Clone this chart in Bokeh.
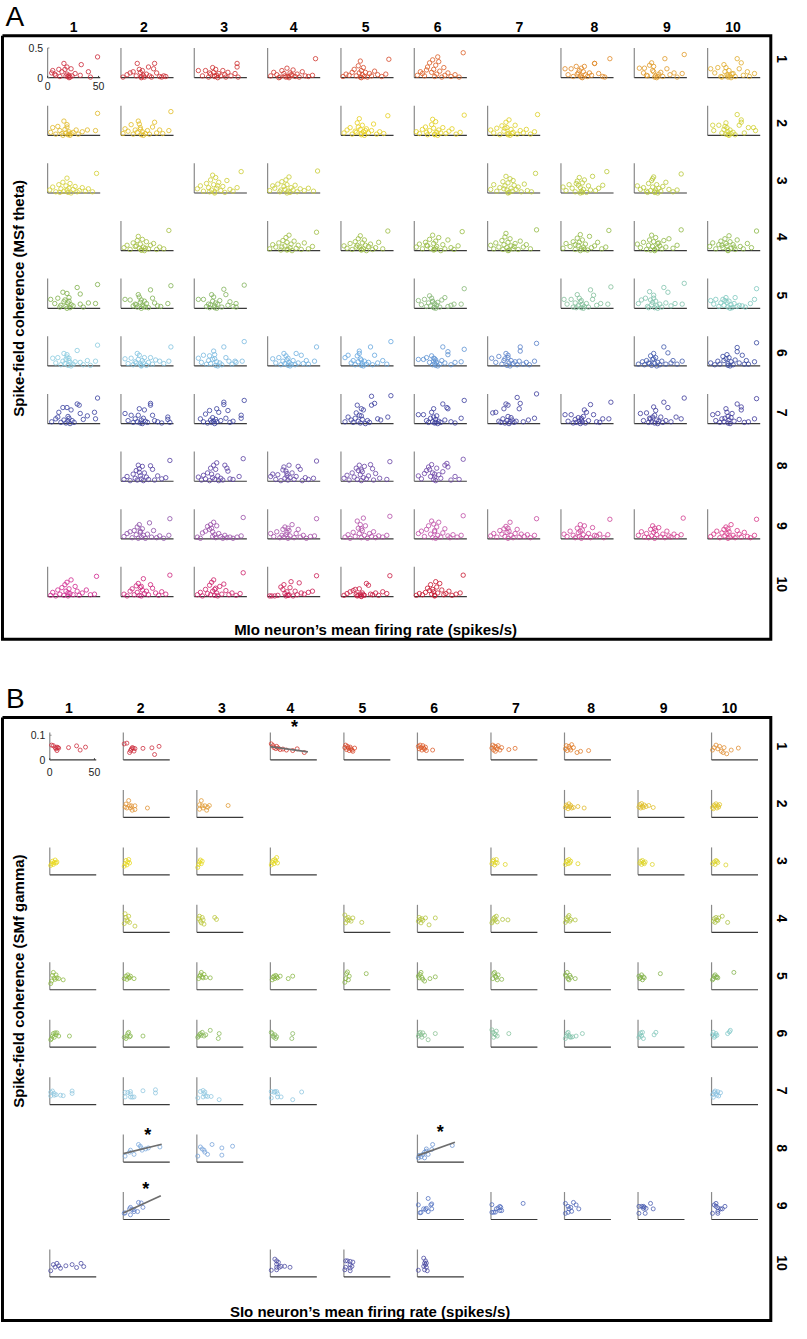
import numpy as np
from bokeh.plotting import figure
from bokeh.models import Range1d
from bokeh.core.properties import value
from bokeh.embed import file_html
from bokeh.resources import INLINE

# ======================= DATA =======================
# Panel A: x = MIo neuron's mean firing rate (spikes/s), y = spike-field coherence x 100
A_r1_c1_x = [49,16,33,19,23,5,11,14,27,32,40,42,7,8,20,21,22,19,21,18,17,4,24,12]
A_r1_c1_y = [35,24,22,18,15,12,14,10,7,4,10,1,6,4,2,4,1,6,0,3,14,8,3,2]
A_r1_c2_x = [2,6,9,12,15,16,18,19,20,20,21,22,23,25,27,28,30,32,35,38,40,42,44,33]
A_r1_c2_y = [1,5,8,10,3,24,14,9,2,0,12,4,1,6,18,3,1,15,8,2,1,3,2,24]
A_r1_c3_x = [4,8,11,14,16,18,19,20,21,22,23,24,26,28,30,31,33,36,40,42,42,43,15,20]
A_r1_c3_y = [12,3,12,1,6,17,9,2,14,4,0,7,3,12,5,1,9,3,7,24,18,1,8,3]
A_r1_c4_x = [3,6,9,12,14,16,17,19,20,21,22,24,25,27,29,31,34,37,40,47,18,23,11,44]
A_r1_c4_y = [3,9,5,1,12,7,3,16,2,0,8,4,13,2,6,1,10,3,2,32,1,5,0,4]
A_r1_c5_x = [2,5,8,11,13,15,17,18,19,20,20,21,22,23,24,26,28,30,33,36,40,44,47,19]
A_r1_c5_y = [2,6,4,9,14,3,20,8,28,0,12,5,17,2,9,1,7,3,11,5,2,6,31,1]
A_r1_c6_x = [3,6,8,10,13,15,17,18,19,20,21,22,23,25,27,29,30,33,36,40,44,48,12,24]
A_r1_c6_y = [4,10,7,3,18,25,9,30,14,2,21,6,35,11,1,17,4,8,2,5,1,42,13,27]
A_r1_c8_x = [4,7,10,12,15,17,19,20,21,22,23,24,26,28,30,33,33,37,41,43,48,20,18,16]
A_r1_c8_y = [15,5,15,2,19,8,3,16,0,10,19,5,2,8,4,24,24,7,2,1,32,1,12,6]
A_r1_c9_x = [5,9,10,13,15,17,18,19,20,21,22,24,26,28,30,32,35,39,42,47,49,23,12,19]
A_r1_c9_y = [16,8,16,3,21,25,12,19,1,3,0,6,9,2,32,15,5,8,1,7,39,2,4,10]
A_r1_c10_x = [3,7,10,13,16,17,18,19,20,21,22,23,25,27,29,31,33,35,39,41,46,20,14,24]
A_r1_c10_y = [15,8,17,2,22,10,17,5,1,12,3,0,7,2,32,15,25,4,10,2,7,3,1,6]

A_r2_c1_x = [3,5,8,10,12,14,16,17,18,19,20,21,22,23,25,28,30,34,39,47,49,19,21,15]
A_r2_c1_y = [5,13,2,15,8,3,24,10,4,18,1,6,0,3,5,9,2,6,9,8,37,14,2,0]
A_r2_c2_x = [2,4,7,10,12,14,16,17,18,19,20,21,22,24,26,28,31,33,35,38,41,47,49,19]
A_r2_c2_y = [3,11,7,18,2,9,5,24,19,13,1,6,0,3,8,2,14,22,4,9,3,8,40,10]
A_r2_c5_x = [3,6,9,11,14,16,17,18,19,20,21,22,23,25,27,30,32,35,38,42,46,20,15,24]
A_r2_c5_y = [4,9,13,2,7,21,14,28,10,3,17,6,0,11,4,8,19,2,6,3,33,1,5,8]
A_r2_c6_x = [2,5,8,11,13,15,17,19,20,21,22,23,24,26,28,31,34,37,41,45,49,18,20,12]
A_r2_c6_y = [6,3,10,14,1,8,18,12,2,23,5,0,9,4,13,3,7,11,2,5,34,27,1,5]
A_r2_c7_x = [3,6,9,12,14,16,18,19,20,21,22,23,25,27,29,32,35,38,42,46,49,20,17,24]
A_r2_c7_y = [9,4,12,1,16,7,22,13,3,26,0,10,5,17,2,8,4,10,2,6,35,1,12,3]
A_r2_c10_x = [5,6,11,14,16,18,18,19,20,21,22,23,25,27,29,31,33,33,36,40,45,47,20,17]
A_r2_c10_y = [17,8,17,4,10,21,2,13,6,0,9,3,5,1,35,17,26,22,4,13,13,8,1,15]

A_r3_c1_x = [2,5,8,11,13,15,16,18,19,20,21,22,23,25,27,29,31,34,37,40,44,48,19,12]
A_r3_c1_y = [5,10,2,14,7,18,3,12,25,1,8,16,0,6,11,2,4,9,3,7,2,33,5,1]
A_r3_c3_x = [3,6,9,12,14,16,17,18,19,20,21,22,24,26,28,30,32,35,38,42,46,20,23,15]
A_r3_c3_y = [7,12,3,16,9,22,5,30,14,2,26,8,18,4,11,1,21,6,3,9,36,0,12,2]
A_r3_c4_x = [2,5,7,10,12,14,16,17,18,19,20,21,22,23,25,27,29,32,36,40,45,49,19,13]
A_r3_c4_y = [4,12,8,15,2,19,11,6,22,14,3,27,1,9,5,13,2,7,4,8,3,37,0,5]
A_r3_c7_x = [3,6,9,12,15,17,18,19,20,21,22,23,24,26,28,30,33,36,39,43,47,20,16,25]
A_r3_c7_y = [6,14,3,9,19,12,28,5,17,1,24,8,3,13,6,10,2,15,4,2,33,0,7,21]
A_r3_c8_x = [2,5,8,11,14,16,17,18,19,20,21,22,23,25,27,29,31,34,37,41,45,19,21,15]
A_r3_c8_y = [10,4,14,8,2,20,13,26,9,3,17,6,22,1,12,5,28,4,8,13,36,0,1,16]
A_r3_c9_x = [3,6,9,12,14,16,17,18,19,20,21,22,23,24,26,28,31,34,38,42,46,20,18,13]
A_r3_c9_y = [12,6,9,3,16,4,21,10,27,1,5,14,0,8,3,11,18,6,2,5,32,2,24,1]

A_r4_c2_x = [3,6,9,12,14,16,17,18,19,20,21,22,23,25,27,29,32,35,38,42,47,20,15,24]
A_r4_c2_y = [5,9,2,13,7,17,24,4,11,1,19,6,0,15,3,9,12,2,6,3,34,1,8,4]
A_r4_c4_x = [2,5,8,11,13,15,17,18,19,20,21,22,23,24,26,28,30,33,36,40,44,48,19,14]
A_r4_c4_y = [3,10,6,13,1,17,8,22,14,2,26,5,11,0,16,4,9,2,13,3,7,31,1,6]
A_r4_c5_x = [3,6,9,11,14,16,17,18,19,20,21,22,23,25,27,29,31,34,37,41,46,20,24,15]
A_r4_c5_y = [8,4,12,2,15,9,20,6,25,1,13,3,18,0,7,11,2,5,14,3,33,2,9,6]
A_r4_c6_x = [2,5,8,11,13,15,16,18,19,20,21,22,24,26,28,30,33,36,39,43,47,19,21,12]
A_r4_c6_y = [6,11,3,14,8,19,4,26,12,2,16,7,22,0,10,3,18,5,2,8,32,1,4,9]
A_r4_c7_x = [3,6,8,11,14,16,17,18,19,20,21,22,23,25,27,30,32,35,38,42,48,20,15,26]
A_r4_c7_y = [9,3,13,6,17,10,23,29,5,14,1,20,8,3,12,2,16,6,10,3,35,0,2,7]
A_r4_c8_x = [2,5,9,12,14,16,17,18,19,20,21,22,24,26,28,30,33,36,40,44,47,19,23,14]
A_r4_c8_y = [4,12,7,15,2,21,9,14,27,3,18,6,11,1,24,5,8,14,3,6,34,0,2,10]
A_r4_c9_x = [3,6,9,12,14,15,17,18,19,20,21,22,23,25,27,29,31,34,38,42,46,20,16,24]
A_r4_c9_y = [11,5,14,2,9,18,26,7,15,0,22,4,12,8,3,17,6,20,4,9,35,2,1,13]
A_r4_c10_x = [2,5,8,11,13,15,17,18,19,20,21,22,23,25,27,29,32,35,39,43,48,20,14,26]
A_r4_c10_y = [7,13,3,10,16,5,20,12,8,1,25,15,4,10,2,18,7,3,12,5,33,0,9,6]

A_r5_c1_x = [3,7,10,13,15,16,18,19,20,21,22,23,25,29,32,32,35,40,47,49,19,17,21,12]
A_r5_c1_y = [15,8,17,5,27,11,3,25,9,18,1,6,4,35,24,7,2,9,8,40,0,14,12,2]
A_r5_c2_x = [4,9,12,14,16,17,18,19,20,21,22,23,25,27,29,31,33,36,39,46,49,20,24,15]
A_r5_c2_y = [15,14,4,7,2,23,19,10,0,5,3,12,8,1,31,17,9,4,3,8,38,14,2,6]
A_r5_c3_x = [4,9,12,14,15,17,18,19,20,21,22,23,25,27,29,31,33,35,38,41,41,49,20,16]
A_r5_c3_y = [15,15,3,7,1,23,12,19,4,9,0,7,13,2,32,23,5,11,3,8,2,39,1,6]
A_r5_c6_x = [4,7,10,12,14,15,16,17,18,19,20,21,22,23,25,27,30,33,36,39,46,49,20,18]
A_r5_c6_y = [13,6,15,3,9,21,4,17,12,1,8,0,5,10,2,14,18,3,5,7,7,33,2,11]
A_r5_c8_x = [3,6,10,12,14,16,17,18,19,20,21,22,23,25,27,29,31,32,35,39,46,49,20,15]
A_r5_c8_y = [15,7,15,2,9,23,4,17,11,1,6,0,3,8,2,31,15,22,5,8,7,36,13,1]
A_r5_c9_x = [4,7,11,13,15,16,17,18,19,20,21,22,23,25,27,29,31,33,36,40,47,49,19,14]
A_r5_c9_y = [8,14,17,3,28,14,6,10,22,1,12,4,0,7,2,35,9,27,4,8,7,42,17,1]
A_r5_c10_x = [3,6,8,11,13,15,16,18,19,20,21,22,23,24,26,27,29,31,34,37,42,46,48,17]
A_r5_c10_y = [13,7,15,3,9,15,5,18,10,2,12,0,6,1,8,18,3,5,4,2,8,15,33,13]

A_r6_c1_x = [5,8,10,13,15,16,17,18,19,20,21,22,23,25,27,29,32,35,39,42,47,49,19,21]
A_r6_c1_y = [13,5,14,2,8,21,4,11,19,1,9,6,0,3,7,26,6,2,9,1,8,35,15,13]
A_r6_c2_x = [4,7,10,12,14,16,17,18,19,20,21,22,23,25,27,29,31,34,38,42,47,49,20,15]
A_r6_c2_y = [12,4,13,2,7,21,11,18,3,0,9,5,14,1,6,14,3,10,8,4,8,32,1,5]
A_r6_c3_x = [4,7,9,12,14,15,16,18,19,20,21,22,23,25,27,29,31,34,37,40,41,47,49,20]
A_r6_c3_y = [13,6,18,3,9,17,4,11,25,19,1,7,0,5,2,32,14,8,3,8,6,8,41,12]
A_r6_c4_x = [5,8,11,13,15,16,17,18,19,20,21,22,23,25,27,28,30,33,35,38,40,46,48,20]
A_r6_c4_y = [12,5,14,2,8,21,4,17,10,1,6,0,3,9,2,21,5,18,4,9,3,8,32,13]
A_r6_c5_x = [4,7,10,12,14,16,17,18,18,19,20,21,22,23,25,27,29,31,33,36,41,45,49,20]
A_r6_c5_y = [14,18,5,9,2,17,7,25,21,12,1,4,0,8,3,6,32,2,18,5,9,3,41,10]
A_r6_c6_x = [4,9,12,15,17,18,19,19,20,21,21,22,23,25,27,28,30,33,33,36,40,46,49,20]
A_r6_c6_y = [11,11,14,6,17,2,13,8,4,10,1,6,0,3,9,32,5,24,19,2,6,7,28,12]
A_r6_c7_x = [4,8,11,14,16,17,18,19,20,21,22,23,25,27,29,31,32,32,35,38,41,46,48,20]
A_r6_c7_y = [13,6,16,3,9,12,21,1,18,5,0,9,4,7,2,8,32,25,3,6,2,8,38,14]
A_r6_c9_x = [4,8,10,12,14,16,17,18,19,20,21,22,23,25,27,29,31,33,36,38,42,47,19,15]
A_r6_c9_y = [3,7,2,9,5,17,1,11,21,4,14,0,6,2,8,32,3,22,5,9,3,8,12,4]
A_r6_c10_x = [3,7,10,12,15,16,18,19,20,21,22,23,25,27,29,29,31,34,36,38,40,46,48,20]
A_r6_c10_y = [5,2,8,3,16,9,12,19,4,14,0,7,2,10,31,24,5,18,3,9,3,7,39,1]

A_r7_c1_x = [4,8,10,11,13,15,16,18,19,20,21,22,23,24,26,29,31,32,35,39,46,47,49,20]
A_r7_c1_y = [3,8,11,19,2,27,6,1,27,4,9,0,23,5,2,33,31,17,7,13,19,8,43,12]
A_r7_c2_x = [4,7,10,12,14,16,17,18,19,20,21,22,23,24,26,29,29,31,33,36,40,46,46,48]
A_r7_c2_y = [17,5,14,2,8,3,14,25,1,6,0,9,23,4,2,34,31,14,5,3,1,11,7,2]
A_r7_c3_x = [6,9,11,13,15,16,17,18,19,20,21,22,22,24,26,29,29,31,33,35,38,46,46,49]
A_r7_c3_y = [8,3,16,1,22,6,2,10,4,0,7,25,3,19,5,36,32,9,22,2,4,14,9,39]
A_r7_c5_x = [4,7,10,12,14,15,16,17,18,19,20,21,22,24,26,28,30,30,33,36,39,46,49,20]
A_r7_c5_y = [3,11,6,2,9,18,31,4,14,1,25,7,23,0,5,2,46,31,34,8,6,11,47,13]
A_r7_c6_x = [4,9,12,14,16,17,18,19,20,21,22,23,24,26,28,30,32,33,36,40,46,49,19,21]
A_r7_c6_y = [15,15,5,2,9,19,3,25,1,7,13,0,4,2,33,6,27,25,3,1,9,39,11,2]
A_r7_c7_x = [5,8,11,13,15,16,17,18,19,20,21,22,23,24,26,28,29,31,32,35,40,46,48,20]
A_r7_c7_y = [18,19,4,2,8,25,1,33,5,31,0,3,10,6,2,4,44,25,34,3,6,9,50,12]
A_r7_c8_x = [4,7,10,12,14,15,17,18,19,20,21,22,23,24,25,27,29,32,35,38,41,47,49,20]
A_r7_c8_y = [15,4,15,1,7,2,10,4,0,6,3,12,23,1,19,5,32,15,3,2,8,8,36,9]
A_r7_c9_x = [6,9,12,14,16,17,18,19,20,21,22,23,24,26,28,29,31,33,36,41,46,49,20,15]
A_r7_c9_y = [17,5,18,2,8,3,11,28,1,22,6,0,4,11,2,36,5,27,3,11,8,43,14,9]
A_r7_c10_x = [5,8,10,12,14,16,18,19,20,21,22,23,24,26,29,31,33,33,36,40,46,48,20,17]
A_r7_c10_y = [15,5,17,2,8,3,25,19,1,6,0,10,17,4,33,7,28,23,2,3,8,42,12,9]

A_r8_c2_x = [3,6,9,12,14,15,16,17,18,19,20,21,22,23,25,27,29,31,33,36,40,44,48,18]
A_r8_c2_y = [3,8,1,12,5,18,2,27,21,9,4,25,1,14,7,3,26,20,2,9,4,6,35,15]
A_r8_c3_x = [4,7,9,11,13,15,16,18,19,20,21,22,23,24,26,28,30,32,33,35,38,44,48,17]
A_r8_c3_y = [7,2,10,4,14,1,22,6,27,3,20,31,9,1,5,2,27,22,17,4,3,8,38,12]
A_r8_c4_x = [3,5,8,10,13,15,16,17,18,19,20,21,22,24,26,28,30,32,34,37,40,45,48,19]
A_r8_c4_y = [8,12,3,11,1,19,24,5,17,9,2,27,6,14,3,8,25,20,1,6,3,5,34,13]
A_r8_c5_x = [3,6,8,11,13,15,16,17,18,19,20,21,22,23,25,27,29,31,32,34,38,45,48,20]
A_r8_c5_y = [5,10,2,14,7,22,3,18,27,11,1,16,6,25,4,9,28,21,2,13,5,3,33,19]
A_r8_c6_x = [4,7,10,12,14,15,16,17,18,19,20,21,22,24,26,28,30,32,33,36,40,44,48,20]
A_r8_c6_y = [9,4,13,18,24,20,8,28,14,3,7,1,22,11,5,16,27,30,24,2,8,3,37,12]

A_r9_c2_x = [3,6,9,11,13,15,16,17,18,19,20,21,22,24,26,28,30,32,35,38,42,47,48,19]
A_r9_c2_y = [4,9,12,2,14,7,20,1,24,11,3,17,6,1,8,27,3,14,2,5,1,6,34,13]
A_r9_c3_x = [3,6,8,11,13,15,16,17,18,19,20,21,22,24,26,28,30,32,35,38,42,46,48,18]
A_r9_c3_y = [3,1,10,13,21,16,24,18,4,28,7,2,22,9,4,1,6,2,3,1,3,5,36,12]
A_r9_c4_x = [3,6,9,12,14,15,16,17,18,19,20,21,22,24,26,28,30,32,35,38,42,46,48,20]
A_r9_c4_y = [9,4,12,2,6,16,3,20,7,11,1,14,5,24,2,9,16,3,6,1,4,5,34,18]
A_r9_c5_x = [4,7,9,12,14,16,17,18,19,20,21,22,23,24,26,28,30,32,34,37,41,45,48,20]
A_r9_c5_y = [3,7,1,11,4,30,18,9,24,2,14,35,6,22,1,9,4,12,2,5,3,6,38,17]
A_r9_c6_x = [4,7,10,12,14,16,17,18,19,20,21,22,23,24,26,28,30,33,35,38,42,46,48,20]
A_r9_c6_y = [9,13,4,16,22,8,30,2,25,12,1,20,6,28,3,10,17,5,2,7,3,6,39,14]
A_r9_c7_x = [3,6,9,12,14,16,17,18,19,20,21,22,23,25,27,29,31,33,36,39,42,46,48,20]
A_r9_c7_y = [5,9,3,14,8,17,4,21,11,1,13,28,6,2,9,16,3,8,4,7,2,6,34,18]
A_r9_c8_x = [3,6,9,12,14,16,17,18,19,20,21,22,23,25,27,29,31,33,35,38,42,46,48,19]
A_r9_c8_y = [8,4,13,6,2,18,10,4,24,1,15,7,22,3,9,2,19,6,5,8,2,7,33,13]
A_r9_c9_x = [4,7,10,12,14,16,17,18,19,20,21,22,24,26,28,30,32,34,36,39,42,46,48,20]
A_r9_c9_y = [6,12,3,9,2,16,5,22,11,1,14,7,19,3,8,2,13,5,3,8,4,7,35,18]
A_r9_c10_x = [3,6,9,12,14,16,17,18,19,20,21,22,23,25,27,29,31,33,36,39,42,46,48,20]
A_r9_c10_y = [4,8,13,2,10,16,5,20,9,1,12,3,24,6,2,14,8,3,11,4,2,6,33,17]

A_r10_c1_x = [3,5,8,10,12,14,16,17,18,19,20,21,22,23,25,27,29,31,34,38,42,46,48,20]
A_r10_c1_y = [2,7,1,11,4,15,2,20,9,24,1,13,5,28,3,17,9,2,6,11,3,4,34,6]
A_r10_c2_x = [3,6,9,11,13,15,16,17,18,19,20,21,22,23,25,27,29,31,34,37,40,44,48,20]
A_r10_c2_y = [4,1,9,13,3,18,7,22,2,15,1,11,30,5,9,3,20,14,6,2,8,4,36,17]
A_r10_c3_x = [3,6,8,11,13,15,16,17,18,19,20,21,22,23,25,27,29,31,34,37,41,45,48,20]
A_r10_c3_y = [3,7,1,12,5,19,3,24,9,28,2,14,6,1,17,4,21,10,3,6,2,5,40,12]
A_r10_c4_x = [2,4,7,10,13,15,16,17,18,19,20,21,22,23,25,27,29,31,33,36,40,44,48,20]
A_r10_c4_y = [1,1,1,2,16,12,20,5,1,8,2,3,15,25,1,9,3,23,6,4,7,9,35,2]
A_r10_c5_x = [3,6,9,12,14,15,16,17,18,19,20,21,22,23,25,27,29,31,34,37,41,45,48,20]
A_r10_c5_y = [2,5,8,10,12,3,1,2,13,4,1,6,3,2,22,19,4,3,6,2,8,5,35,0]
A_r10_c6_x = [2,5,8,11,13,15,16,17,18,19,20,21,22,23,25,27,29,31,34,37,41,45,48,20]
A_r10_c6_y = [2,5,3,7,14,10,20,4,12,8,2,25,16,6,22,11,3,5,9,2,4,6,36,1]

# Panel B: x = SIo neuron's mean firing rate (spikes/s), y = spike-field coherence x 1000
B_r1_c1_x = [2,4,6,7,8,9,10,8,21,30,34,40]
B_r1_c1_y = [60,58,50,45,52,50,48,38,50,57,40,52]
B_r1_c2_x = [1,4,7,8,9,10,11,12,13,22,32,35,40]
B_r1_c2_y = [65,68,30,38,44,50,48,36,46,47,49,22,55]
B_r1_c4_x = [1,3,4,6,7,9,11,14,18,25,30,38]
B_r1_c4_y = [65,58,50,46,55,48,42,44,40,38,45,30]
B_r1_c5_x = [1,2,3,4,5,6,7,8,9,10,12]
B_r1_c5_y = [50,60,42,55,48,38,52,45,40,35,48]
B_r1_c6_x = [1,2,3,4,5,6,7,8,9,10,17]
B_r1_c6_y = [55,45,60,50,40,58,48,44,52,38,40]
B_r1_c7_x = [1,2,3,4,5,6,7,8,10,12,20,27]
B_r1_c7_y = [48,60,40,55,35,52,45,58,40,50,42,47]
B_r1_c8_x = [1,2,3,5,6,7,8,10,14,18,27]
B_r1_c8_y = [45,58,38,55,48,40,62,50,30,35,38]
B_r1_c10_x = [1,3,5,7,9,11,13,14,17,22,30]
B_r1_c10_y = [40,50,60,45,55,35,30,50,25,40,48]

B_r2_c2_x = [2,3,4,6,7,8,9,10,13,13,27]
B_r2_c2_y = [42,54,38,68,47,38,47,29,47,32,38]
B_r2_c3_x = [3,3,5,6,7,9,11,12,14,35]
B_r2_c3_y = [51,33,68,47,38,47,29,41,48,48]
B_r2_c8_x = [1,2,3,4,5,6,7,8,10,15,22]
B_r2_c8_y = [40,50,45,35,55,42,48,38,40,44,38]
B_r2_c9_x = [1,2,3,4,5,6,7,9,12,17]
B_r2_c9_y = [42,52,38,56,45,40,50,44,48,40]
B_r2_c10_x = [1,2,3,4,5,6,7,8,9]
B_r2_c10_y = [40,35,50,45,55,38,48,42,52]

B_r3_c1_x = [1,2,3,4,5,6,7,8]
B_r3_c1_y = [38,45,55,42,50,60,48,52]
B_r3_c2_x = [1,2,3,4,5,6,7]
B_r3_c2_y = [35,45,58,40,52,62,48]
B_r3_c3_x = [1,2,3,4,5,6]
B_r3_c3_y = [30,42,52,60,45,55]
B_r3_c4_x = [1,2,3,4,5,6,7,8]
B_r3_c4_y = [40,50,58,45,62,55,70,48]
B_r3_c7_x = [1,2,3,4,5,6,7,16]
B_r3_c7_y = [45,55,60,40,50,62,48,42]
B_r3_c8_x = [1,2,3,4,5,6,7,15]
B_r3_c8_y = [42,52,58,45,62,48,55,45]
B_r3_c9_x = [2,3,4,5,6,7,8,16]
B_r3_c9_y = [48,55,42,58,50,45,52,42]
B_r3_c10_x = [1,3,4,5,6,7,16]
B_r3_c10_y = [45,52,42,58,55,50,40]

B_r4_c2_x = [1,2,3,4,5,6,7,13]
B_r4_c2_y = [35,75,60,50,45,65,40,25]
B_r4_c3_x = [2,3,4,5,6,7,8,20,22]
B_r4_c3_y = [55,65,45,38,60,50,33,60,52]
B_r4_c5_x = [1,2,3,4,5,6,8,10,20]
B_r4_c5_y = [70,38,55,48,60,50,45,58,40]
B_r4_c6_x = [1,2,3,4,5,6,9,13,20]
B_r4_c6_y = [45,60,52,38,55,48,58,30,58]
B_r4_c7_x = [1,2,3,4,5,6,7,13,19]
B_r4_c7_y = [38,45,55,60,50,65,42,52,50]
B_r4_c8_x = [1,2,3,4,5,6,7,12]
B_r4_c8_y = [40,55,48,62,68,45,52,50]
B_r4_c10_x = [2,3,4,5,6,7,8,12,18]
B_r4_c10_y = [45,55,40,60,50,48,58,65,40]

B_r5_c1_x = [1,2,3,4,5,6,7,8,10,15]
B_r5_c1_y = [25,35,58,70,48,42,60,48,45,40]
B_r5_c2_x = [1,3,4,5,6,7,8,12]
B_r5_c2_y = [45,55,42,60,50,48,55,45]
B_r5_c3_x = [2,3,4,5,6,7,8,10,15]
B_r5_c3_y = [45,55,60,70,52,48,62,50,48]
B_r5_c4_x = [2,3,4,5,6,7,8,11,20,25]
B_r5_c4_y = [40,50,55,45,58,52,48,55,45,55]
B_r5_c5_x = [1,2,3,4,5,6,25]
B_r5_c5_y = [30,45,65,72,40,55,65]
B_r5_c6_x = [1,2,3,4,5,6,8,14,20]
B_r5_c6_y = [55,48,62,70,50,42,35,45,52]
B_r5_c7_x = [2,3,4,5,6,7,8,12]
B_r5_c7_y = [45,65,70,55,50,40,60,42]
B_r5_c8_x = [1,2,3,4,5,6,7,12]
B_r5_c8_y = [60,55,70,45,40,58,50,45]
B_r5_c9_x = [1,2,3,4,5,6,7,25]
B_r5_c9_y = [55,45,50,60,40,52,48,65]
B_r5_c10_x = [1,2,3,4,5,6,7,25]
B_r5_c10_y = [40,45,55,60,50,52,48,70]

B_r6_c1_x = [1,2,3,4,5,6,7,8,10,22]
B_r6_c1_y = [30,35,45,55,40,58,50,58,45,45]
B_r6_c2_x = [1,3,4,5,6,7,8,22]
B_r6_c2_y = [40,35,45,55,60,42,45,45]
B_r6_c3_x = [1,2,3,4,5,6,8,10,15,24,25]
B_r6_c3_y = [40,45,50,55,48,60,45,50,68,35,55]
B_r6_c4_x = [1,2,3,4,5,6,7,24,25]
B_r6_c4_y = [60,55,45,40,50,35,42,35,55]
B_r6_c6_x = [1,2,3,4,5,6,8,12,20]
B_r6_c6_y = [45,55,60,50,40,58,48,30,55]
B_r6_c7_x = [1,2,3,4,5,6,7,20]
B_r6_c7_y = [70,60,40,55,50,65,45,55]
B_r6_c8_x = [1,2,3,4,5,6,7,9,13,20]
B_r6_c8_y = [35,45,55,60,48,42,40,42,45,55]
B_r6_c9_x = [1,2,3,4,5,6,18,20]
B_r6_c9_y = [40,50,58,45,60,35,50,60]
B_r6_c10_x = [1,2,3,4,5,6,18,20,21]
B_r6_c10_y = [50,60,40,45,55,48,55,62,68]

B_r7_c1_x = [1,1,3,5,5,7,12,15,25,25]
B_r7_c1_y = [50,35,55,45,38,40,38,36,55,45]
B_r7_c2_x = [2,2,5,8,8,8,10,12,22,36,36]
B_r7_c2_y = [49,31,49,53,44,31,30,31,56,60,47]
B_r7_c3_x = [1,4,7,9,8,7,10,12,16,25]
B_r7_c3_y = [27,53,57,51,44,31,35,33,33,20]
B_r7_c4_x = [1,1,4,5,7,8,8,12,25,35]
B_r7_c4_y = [53,27,50,53,53,44,31,31,20,51]
B_r7_c10_x = [1,2,3,4,5,6,7,8,10]
B_r7_c10_y = [40,30,50,55,45,38,52,35,48]

B_r8_c2_x = [2,7,8,12,17,19,20,21,25,28,41]
B_r8_c2_y = [24,40,48,31,71,64,57,48,53,57,61]
B_r8_c3_x = [1,4,6,8,9,12,17,28,28,40]
B_r8_c3_y = [24,61,53,48,40,31,71,57,28,64]
B_r8_c6_x = [1,2,4,6,8,8,10,10,12,16,17,39]
B_r8_c6_y = [17,27,21,31,17,40,53,44,31,51,71,67]

B_r9_c2_x = [1,2,7,8,8,10,12,12,16,17,20,22]
B_r9_c2_y = [25,27,43,49,19,40,32,40,32,69,67,49]
B_r9_c6_x = [1,3,4,7,9,10,12,12,15,16,16]
B_r9_c6_y = [59,27,29,43,40,45,85,32,59,63,43]
B_r9_c7_x = [1,1,3,6,8,10,11,10,12,36,5]
B_r9_c7_y = [60,29,29,43,47,53,49,36,36,65,30]
B_r9_c8_x = [1,1,4,4,5,7,8,10,13,16]
B_r9_c8_y = [65,25,53,29,43,49,33,69,59,43]
B_r9_c9_x = [1,1,4,6,6,9,14,17,8,7]
B_r9_c9_y = [53,25,53,53,45,45,65,43,25,50]
B_r9_c10_x = [1,3,5,5,7,10,7,7,15,12]
B_r9_c10_y = [25,59,65,53,47,43,33,25,53,43]

B_r10_c1_x = [1,4,6,8,10,12,18,25,30,35,38]
B_r10_c1_y = [25,50,40,55,45,35,45,50,38,55,42]
B_r10_c4_x = [1,5,7,7,7,7,9,10,12,16,22]
B_r10_c4_y = [27,72,65,52,39,29,59,39,43,43,39]
B_r10_c5_x = [1,2,2,4,7,7,7,7,10,9]
B_r10_c5_y = [29,39,65,65,63,49,36,25,60,43]
B_r10_c6_x = [1,7,9,8,9,10,8,11,10,7]
B_r10_c6_y = [27,76,65,56,49,39,29,25,56,43]

# Significant regression lines in panel B (end points, x in spikes/s, y x 1000)
B_fit_r1_c4_x = [0, 42]
B_fit_r1_c4_y = [54, 33]
B_fit_r8_c2_x = [0, 43]
B_fit_r8_c2_y = [34, 72]
B_fit_r8_c6_x = [0, 42]
B_fit_r8_c6_y = [26, 80]
B_fit_r9_c2_x = [0, 42]
B_fit_r9_c2_y = [26, 96]
B_star_cells = [(1, 4), (8, 2), (8, 6), (9, 2)]
B_star_x = [27, 27.5, 25.5, 25]
B_star_y = [150, 124, 137, 140]

col_labels = ["1", "2", "3", "4", "5", "6", "7", "8", "9", "10"]
row_labels = ["1", "2", "3", "4", "5", "6", "7", "8", "9", "10"]
A_xticks = [0, 50]
A_yticks = [0, 0.5]
A_ytick_text = ["0", "0.5"]
B_xticks = [0, 50]
B_yticks = [0, 0.1]
B_ytick_text = ["0", "0.1"]
A_xlabel = "MIo neuron\u2019s mean firing rate (spikes/s)"
A_ylabel = "Spike-field coherence (MSf theta)"
B_xlabel = "SIo neuron\u2019s mean firing rate (spikes/s)"
B_ylabel = "Spike-field coherence (SMf gamma)"

# ======================= STYLE / LAYOUT =======================
W, H = 791, 1323
RX0, RX1 = 0.5, 803.0          # page-reference coordinate window (x)
RY_TOP, RY_BOT = 2.0, 1339.0   # (y grows downward)
FONT = value("Liberation Sans")

A_anchors = [(0, "#cc2a3a"), (3, "#d03830"), (5, "#dc6028"), (7, "#e08a28"), (9, "#e0ac2c"),
             (10, "#e0b828"), (14, "#e8d020"), (19, "#d0d030"), (20, "#d4d034"), (29, "#b4c83c"),
             (30, "#a8c040"), (39, "#8cb848"), (40, "#80b04c"), (45, "#88b878"), (49, "#80c8c0"),
             (50, "#8ccce0"), (54, "#68a8e0"), (56, "#5880c8"), (59, "#3848a0"), (60, "#3a42a0"),
             (69, "#403c9c"), (70, "#5040a0"), (75, "#7048a8"), (80, "#8050a8"), (85, "#c050a8"),
             (89, "#d83888"), (90, "#d02890"), (95, "#c81830"), (99, "#c81830")]
B_anchors = [(0, "#cc2a3a"), (1, "#cc2a3a"), (3, "#d03028"), (5, "#dc5a28"), (7, "#e07c28"),
             (9, "#e08c30"), (11, "#e09030"), (12, "#e09830"), (17, "#e0b828"), (19, "#e0c428"),
             (20, "#e8d818"), (29, "#dcd428"), (30, "#c0c838"), (39, "#a8c040"), (40, "#8cb840"),
             (49, "#80b048"), (50, "#88b848"), (53, "#88b860"), (55, "#88c090"), (59, "#80c8c8"),
             (60, "#90c8e0"), (69, "#88c0e0"), (70, "#80b0e0"), (75, "#6890d0"), (80, "#6888cc"),
             (81, "#6080c8"), (85, "#5070c0"), (89, "#4050a8"), (90, "#4848a0"), (99, "#4848a0")]


def hex2rgb(h):
    h = h.lstrip("#")
    return [int(h[i:i + 2], 16) for i in (0, 2, 4)]


def color_at(anchors, idx):
    for (i0, c0), (i1, c1) in zip(anchors[:-1], anchors[1:]):
        if i0 <= idx <= i1:
            t = 0 if i1 == i0 else (idx - i0) / (i1 - i0)
            a, b = hex2rgb(c0), hex2rgb(c1)
            rgb = [int(round(a[k] + (b[k] - a[k]) * t)) for k in range(3)]
            return "#%02x%02x%02x" % tuple(rgb)
    return anchors[-1][1]


PANELS = {
    "A": dict(ox0=48.3, dx=74.4, oy0=80.0, dy=58.26, kx=1.034, ky=60.0, xmax=51.6, ymax=0.5,
              yunit=0.01, anchors=A_anchors, msize=4.4, mlw=0.9,
              box=(2.5, 782.0, 37.5, 647.5),
              col_lab_x=[74.7, 146, 227.5, 298, 371, 444, 527, 603, 676.5, 743.6], col_lab_y=28.5,
              row_lab_y=[61, 126, 184, 241, 300, 358, 418.5, 472, 533, 592],
              letter=("A", 15, 18), xlabel=(A_xlabel, 381, 637.5), ylabel=(A_ylabel, 19, 303),
              xticks=A_xticks, yticks=A_yticks, ytick_text=A_ytick_text, xtick_dy=8.5),
    "B": dict(ox0=50.5, dx=74.6, oy0=769.5, dy=58.05, kx=0.906, ky=250.0, xmax=52, ymax=0.111,
              yunit=0.001, anchors=B_anchors, msize=4.0, mlw=0.85,
              box=(2.5, 782.0, 726.5, 1336.0),
              col_lab_x=[70, 142.7, 225, 294.7, 367.6, 440.5, 523.4, 599.8, 673.4, 740.2], col_lab_y=717,
              row_lab_y=[769.5 + 58.05 * i - 14 for i in range(10)],
              letter=("B", 15.5, 707), xlabel=(B_xlabel, 375.5, 1327), ylabel=(B_ylabel, 19, 993),
              xticks=B_xticks, yticks=B_yticks, ytick_text=B_ytick_text, xtick_dy=12),
}

p = figure(width=W, height=H, x_range=Range1d(RX0, RX1), y_range=Range1d(RY_BOT, RY_TOP),
           x_axis_location=None, y_axis_location=None, min_border=0,
           output_backend="svg", toolbar_location=None)
p.outline_line_color = None
p.background_fill_color = "white"
p.border_fill_color = "white"
p.xgrid.visible = False
p.ygrid.visible = False
p.grid.grid_line_color = None

extra_x, extra_y = {}, {}
for name, P in PANELS.items():
    for c in range(1, 11):
        ox = P["ox0"] + P["dx"] * (c - 1)
        extra_x[f"{name}x{c}"] = Range1d((RX0 - ox) / P["kx"], (RX1 - ox) / P["kx"])
    for r in range(1, 11):
        oy = P["oy0"] + P["dy"] * (r - 1)
        extra_y[f"{name}y{r}"] = Range1d((oy - RY_BOT) / P["ky"], (oy - RY_TOP) / P["ky"])
p.extra_x_ranges = extra_x
p.extra_y_ranges = extra_y

G = globals()
for name, P in PANELS.items():
    cells = []
    for r in range(1, 11):
        for c in range(1, 11):
            kx_, ky_ = f"{name}_r{r}_c{c}_x", f"{name}_r{r}_c{c}_y"
            if kx_ in G:
                cells.append((r, c, G[kx_], G[ky_]))
    # axes of each small plot
    ya = dict(x0=[], y0=[], x1=[], y1=[])
    xa = dict(x0=[], y0=[], x1=[], y1=[])
    for r, c, xs, ys in cells:
        ox = P["ox0"] + P["dx"] * (c - 1)
        oy = P["oy0"] + P["dy"] * (r - 1)
        ya["x0"].append(ox); ya["x1"].append(ox); ya["y0"].append(oy); ya["y1"].append(oy - P["ymax"] * P["ky"])
        xa["x0"].append(ox); xa["x1"].append(ox + P["xmax"] * P["kx"]); xa["y0"].append(oy); xa["y1"].append(oy)
    p.segment(line_color="#8a8a8a", line_width=1.2, **ya)
    p.segment(line_color="#3a3a3a", line_width=1.2, **xa)
    # points
    for r, c, xs, ys in cells:
        n = min(len(xs), len(ys))
        col = color_at(P["anchors"], (r - 1) * 10 + (c - 1))
        p.scatter(x=xs[:n], y=[v * P["yunit"] for v in ys[:n]], marker="circle", size=P["msize"],
                  fill_color=None, line_color=col, line_width=P["mlw"], line_alpha=0.9,
                  x_range_name=f"{name}x{c}", y_range_name=f"{name}y{r}")
    # tick labels on first small plot
    r0, c0 = 1, 1
    xr, yr = f"{name}x{c0}", f"{name}y{r0}"
    p.text(x=[-4.5 / P["kx"]] * 2, y=P["yticks"], text=P["ytick_text"], text_align="right",
           text_baseline="middle", text_font=FONT, text_font_size="10.5px", text_color="#222222",
           x_range_name=xr, y_range_name=yr)
    p.text(x=P["xticks"], y=[-P["xtick_dy"] / P["ky"]] * 2, text=[str(v) for v in P["xticks"]],
           text_align="center", text_baseline="middle", text_font=FONT, text_font_size="10.5px",
           text_color="#222222", x_range_name=xr, y_range_name=yr)
    p.segment(x0=[0, 0], y0=P["yticks"], x1=[1.8 / P["kx"]] * 2, y1=P["yticks"], line_color="#8a8a8a",
              line_width=1, x_range_name=xr, y_range_name=yr)
    p.segment(x0=P["xticks"], y0=[0, 0], x1=P["xticks"], y1=[1.8 / P["ky"]] * 2, line_color="#3a3a3a",
              line_width=1, x_range_name=xr, y_range_name=yr)
    # panel box
    l, rr, t, b = P["box"]
    p.line(x=[l, rr, rr, l, l], y=[t, t, b, b, t], line_color="black", line_width=3, line_join="miter")
    # column and row labels
    p.text(x=P["col_lab_x"], y=[P["col_lab_y"]] * 10, text=col_labels, text_align="center",
           text_baseline="middle", text_font=FONT, text_font_style="bold", text_font_size="14px",
           text_color="black")
    p.text(x=[793.5] * 10, y=P["row_lab_y"], text=row_labels, angle=-np.pi / 2, text_align="center",
           text_baseline="middle", text_font=FONT, text_font_style="bold", text_font_size="14px",
           text_color="black")
    lt, lx, ly = P["letter"]
    p.text(x=[lx], y=[ly], text=[lt], text_align="center", text_baseline="middle", text_font=FONT,
           text_font_size="28px", text_color="black")
    t_, x_, y_ = P["xlabel"]
    p.text(x=[x_], y=[y_], text=[t_], text_align="center", text_baseline="middle", text_font=FONT,
           text_font_style="bold", text_font_size="15px", text_color="black")
    t_, x_, y_ = P["ylabel"]
    p.text(x=[x_], y=[y_], text=[t_], angle=np.pi / 2, text_align="center", text_baseline="middle",
           text_font=FONT, text_font_style="bold", text_font_size="15px", text_color="black")

# regression lines and significance stars (panel B)
for (r, c) in B_star_cells:
    fx, fy = G[f"B_fit_r{r}_c{c}_x"], G[f"B_fit_r{r}_c{c}_y"]
    p.line(x=fx, y=[v * 0.001 for v in fy], line_color="#6e6e6e", line_width=1.7,
           x_range_name=f"Bx{c}", y_range_name=f"By{r}")
for (r, c), sx, sy in zip(B_star_cells, B_star_x, B_star_y):
    p.text(x=[sx], y=[sy * 0.001 - 0.016], text=["*"], text_align="center", text_baseline="middle",
           text_font=FONT, text_font_style="bold", text_font_size="18px", text_color="black",
           x_range_name=f"Bx{c}", y_range_name=f"By{r}")

open("out.html", "w").write(file_html(p, INLINE))
